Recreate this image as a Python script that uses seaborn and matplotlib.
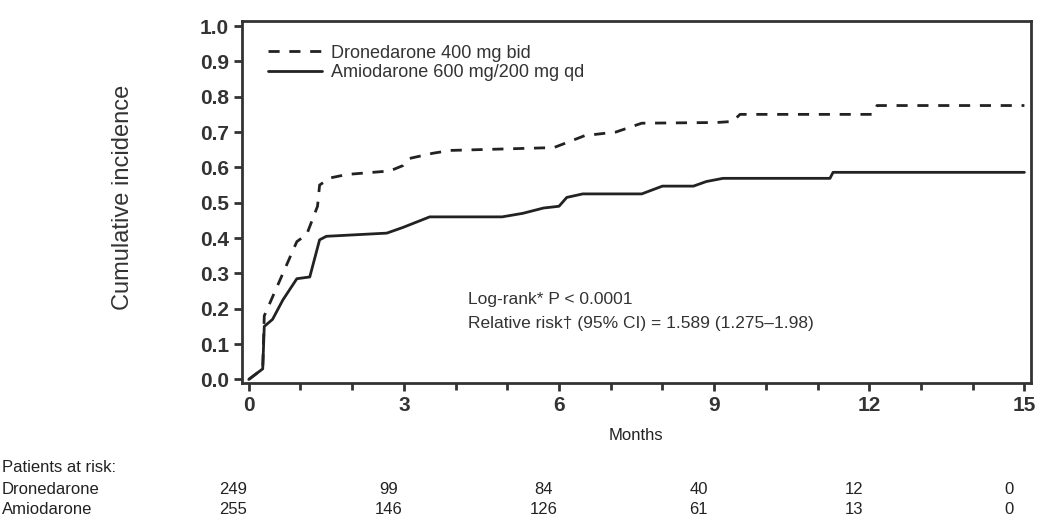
import numpy as np
import pandas as pd
import matplotlib
matplotlib.use('Agg')
import matplotlib.pyplot as plt
import matplotlib.transforms as mtransforms
import seaborn as sns


# curve points (months, cumulative incidence)
drone_months = [0, 0.27, 0.3, 0.93, 1.12, 1.33, 1.37, 1.57, 1.9, 2.73, 2.98, 3.1, 3.56, 3.9,
                5.9, 6.15, 6.5, 7.1, 7.6, 9.05, 9.36, 9.5, 12.07, 12.15, 15]
drone_inc = [0, 0.03, 0.18, 0.39, 0.41, 0.49, 0.55, 0.57, 0.58, 0.59, 0.605, 0.625, 0.64, 0.648,
             0.656, 0.67, 0.69, 0.70, 0.725, 0.727, 0.73, 0.75, 0.75, 0.775, 0.775]

amio_months = [0, 0.27, 0.3, 0.46, 0.66, 0.93, 1.18, 1.37, 1.5, 2.67, 2.98, 3.5, 4.9, 5.3,
               5.7, 6.0, 6.15, 6.46, 7.6, 8.0, 8.6, 8.85, 9.17, 11.24, 11.3, 15]
amio_inc = [0, 0.03, 0.15, 0.17, 0.225, 0.285, 0.29, 0.395, 0.405, 0.414, 0.43, 0.46, 0.46, 0.47,
            0.485, 0.49, 0.515, 0.525, 0.525, 0.547, 0.547, 0.56, 0.569, 0.569, 0.586, 0.586]

drone_label = 'Dronedarone 400 mg bid'
amio_label = 'Amiodarone 600 mg/200 mg qd'

risk_months = [0, 3, 6, 9, 12, 15]
drone_risk = [249, 99, 84, 40, 12, 0]
amio_risk = [255, 146, 126, 61, 13, 0]

df = pd.concat([
    pd.DataFrame({'month': drone_months, 'inc': drone_inc, 'arm': drone_label}),
    pd.DataFrame({'month': amio_months, 'inc': amio_inc, 'arm': amio_label}),
], ignore_index=True)

sns.set_style('ticks')
plt.rcParams['font.family'] = ['Liberation Sans', 'DejaVu Sans']

fig = plt.figure(figsize=(10.41, 5.2), dpi=100)
ax = fig.add_axes([0.2325, 0.2635, 0.7575, 0.696])

sns.lineplot(data=df, x='month', y='inc', style='arm', estimator=None, sort=False,
             dashes={drone_label: (4, 3.5), amio_label: ''},
             color='#222222', linewidth=2, ax=ax)

ax.set_xlim(-0.13, 15.12)
ax.set_ylim(-0.01, 1.014)
ax.set_xticks(risk_months)
ax.set_xticks(np.arange(0, 16, 1), minor=True)
ax.set_yticks(np.arange(0, 1.01, 0.1))
ax.set_yticklabels([f'{v:.1f}' for v in np.arange(0, 1.01, 0.1)])
ax.tick_params(axis='both', which='major', labelsize=15, width=2, length=6, color='#333333',
               labelcolor='#333333')
ax.tick_params(axis='x', which='minor', width=2, length=5, color='#333333')
for lab in ax.get_xticklabels() + ax.get_yticklabels():
    lab.set_fontweight('bold')
for s in ax.spines.values():
    s.set_linewidth(2)
    s.set_color('#333333')

ax.set_xlabel('Months', fontsize=12, color='#222222', labelpad=9)
ax.set_ylabel('')
fig.text(0.118, 0.62, 'Cumulative incidence', rotation=90, ha='center', va='center',
         fontsize=17, color='#333333')

ax.legend(loc='upper left', bbox_to_anchor=(0.012, 0.98), frameon=False, fontsize=13,
          handlelength=3.0, handletextpad=0.5, labelspacing=0.15, title=None)
leg = ax.get_legend()
for t in leg.get_texts():
    t.set_color('#333333')

ax.text(0.287, 0.23, 'Log-rank* P < 0.0001', transform=ax.transAxes, fontsize=12.5,
        color='#333333', va='center')
ax.text(0.287, 0.165, 'Relative risk\u2020 (95% CI) = 1.589 (1.275\u20131.98)',
        transform=ax.transAxes, fontsize=12.5, color='#333333', va='center')

# patients at risk table
trans = mtransforms.blended_transform_factory(ax.transData, fig.transFigure)
fig.text(0.002, 0.1, 'Patients at risk:', fontsize=12, color='#222222', va='center')
fig.text(0.002, 0.058, 'Dronedarone', fontsize=12, color='#222222', va='center')
fig.text(0.002, 0.02, 'Amiodarone', fontsize=12, color='#222222', va='center')
for m, d, a in zip(risk_months, drone_risk, amio_risk):
    ax.text(m - 0.3, 0.058, str(d), transform=trans, ha='center', va='center', fontsize=12,
            color='#222222')
    ax.text(m - 0.3, 0.02, str(a), transform=trans, ha='center', va='center', fontsize=12,
            color='#222222')

fig.savefig('out.png', dpi=100)
